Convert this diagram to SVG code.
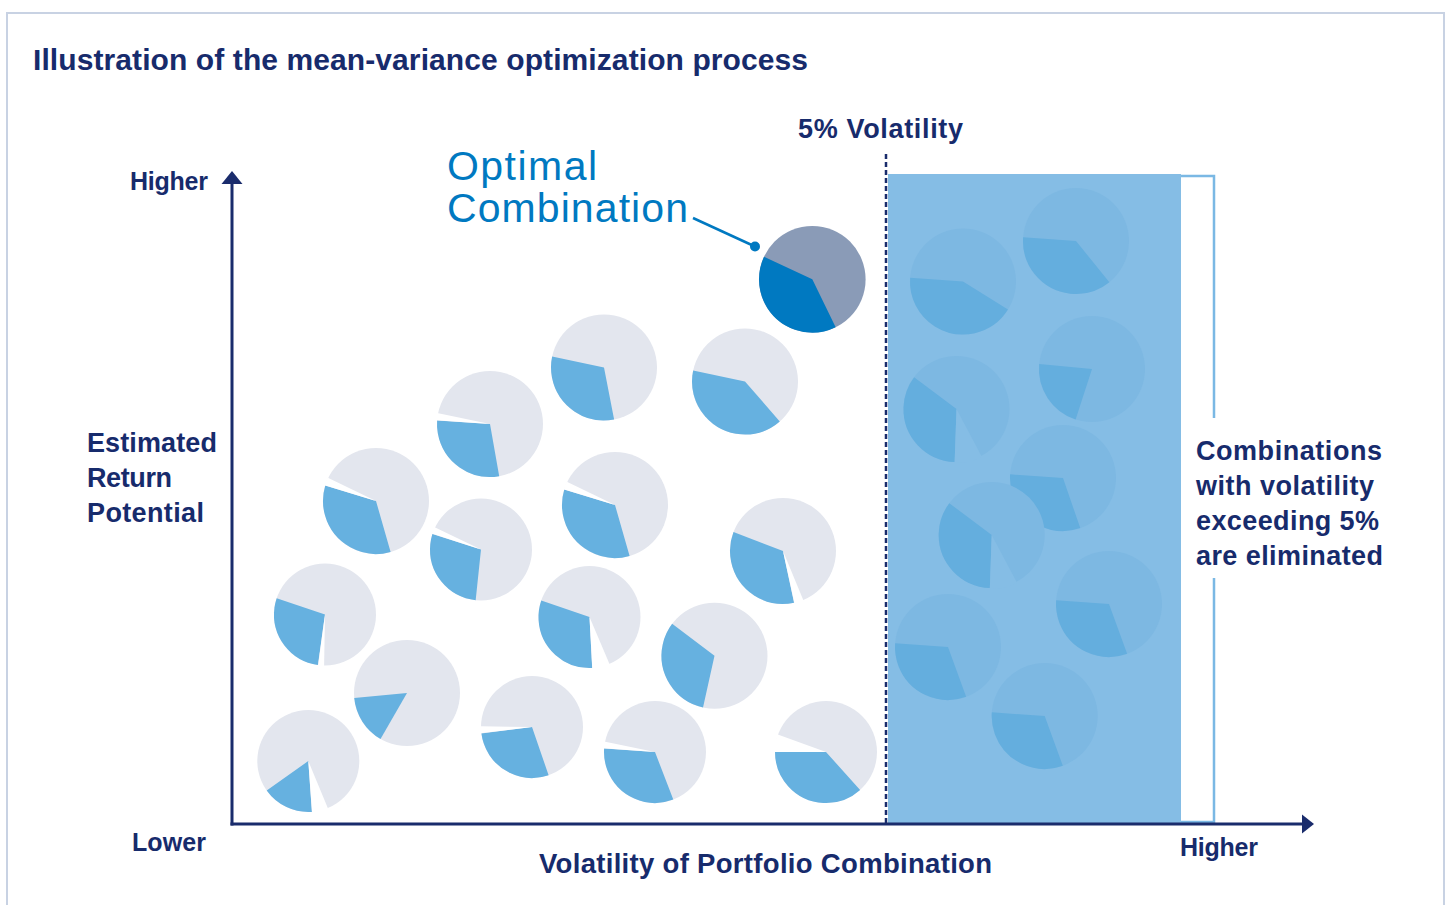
<svg xmlns="http://www.w3.org/2000/svg" width="1448" height="905" viewBox="0 0 1448 905">
<style>
.t{font-family:"Liberation Sans",Arial,sans-serif;font-weight:700;fill:#172b6c;font-size:27px}
.opt{font-family:"Liberation Sans",Arial,sans-serif;font-weight:400;fill:#0079c1;font-size:41px}
.g{fill:#e3e6ee}
.s{fill:none}
.b{stroke:#66b1e0}
.w{stroke:#ffffff}
.rg{fill:#7db8e2}
.rb{stroke:#64aede}
.rw{stroke:#85bde5}
.ax{stroke:#1a2c6c;stroke-width:3;fill:none}
</style>
<rect x="0" y="0" width="1448" height="905" fill="#ffffff"/>
<rect x="7" y="13" width="1437" height="900" fill="none" stroke="#c8d2e3" stroke-width="2"/>
<text class="t" x="33" y="70" style="font-size:30px" textLength="775">Illustration of the mean-variance optimization process</text>

<rect id="eliminated-zone" x="888" y="174" width="293" height="650" fill="#85bde5"/>

<g id="eliminated-pies">
<g id="r1" transform="translate(963 281.5)"><circle r="53" class="rg"/><circle r="26.5" pathLength="360" class="s rb" stroke-width="53" stroke-dasharray="152 360" transform="rotate(32)"/></g>
<g id="r2" transform="translate(1076 241)"><circle r="53" class="rg"/><circle r="26.5" pathLength="360" class="s rb" stroke-width="53" stroke-dasharray="133 360" transform="rotate(51)"/></g>
<g id="r3" transform="translate(1092 369)"><circle r="53" class="rg"/><circle r="26.5" pathLength="360" class="s rb" stroke-width="53" stroke-dasharray="77 360" transform="rotate(108)"/></g>
<g id="r4" transform="translate(956.5 409)"><circle r="53" class="rg"/><circle r="26.5" pathLength="360" class="s rb" stroke-width="53" stroke-dasharray="125 360" transform="rotate(92)"/><circle r="27" pathLength="360" class="s rw" stroke-width="54" stroke-dasharray="30 360" transform="rotate(62)"/></g>
<g id="r5" transform="translate(1063 478)"><circle r="53" class="rg"/><circle r="26.5" pathLength="360" class="s rb" stroke-width="53" stroke-dasharray="113 360" transform="rotate(71)"/></g>
<g id="r6" transform="translate(991.7 535)"><circle r="53" class="rg"/><circle r="26.5" pathLength="360" class="s rb" stroke-width="53" stroke-dasharray="125 360" transform="rotate(92)"/><circle r="27" pathLength="360" class="s rw" stroke-width="54" stroke-dasharray="30 360" transform="rotate(62)"/></g>
<g id="r7" transform="translate(1109 604)"><circle r="53" class="rg"/><circle r="26.5" pathLength="360" class="s rb" stroke-width="53" stroke-dasharray="114 360" transform="rotate(70)"/></g>
<g id="r8" transform="translate(948 647)"><circle r="53" class="rg"/><circle r="26.5" pathLength="360" class="s rb" stroke-width="53" stroke-dasharray="114 360" transform="rotate(70)"/></g>
<g id="r9" transform="translate(1044.7 716)"><circle r="53" class="rg"/><circle r="26.5" pathLength="360" class="s rb" stroke-width="53" stroke-dasharray="114 360" transform="rotate(70)"/></g>
</g>

<g id="pies">
<g id="pie-a" transform="translate(490 424)"><circle r="53" class="g"/><circle r="26.5" pathLength="360" class="s b" stroke-width="53" stroke-dasharray="104 360" transform="rotate(80)"/><circle r="27" pathLength="360" class="s w" stroke-width="54" stroke-dasharray="8 360" transform="rotate(184)"/></g>
<g id="pie-d" transform="translate(604 367.5)"><circle r="53" class="g"/><circle r="26.5" pathLength="360" class="s b" stroke-width="53" stroke-dasharray="113 360" transform="rotate(79)"/></g>
<g id="pie-e" transform="translate(745 381.5)"><circle r="53" class="g"/><circle r="26.5" pathLength="360" class="s b" stroke-width="53" stroke-dasharray="143 360" transform="rotate(49)"/></g>
<g id="pie-b" transform="translate(376 501)"><circle r="53" class="g"/><circle r="26.5" pathLength="360" class="s b" stroke-width="53" stroke-dasharray="123 360" transform="rotate(74)"/><circle r="27" pathLength="360" class="s w" stroke-width="54" stroke-dasharray="9 360" transform="rotate(197)"/></g>
<g id="pie-c" transform="translate(481 549.5)"><circle r="51" class="g"/><circle r="25.5" pathLength="360" class="s b" stroke-width="51" stroke-dasharray="102 360" transform="rotate(96)"/><circle r="26" pathLength="360" class="s w" stroke-width="52" stroke-dasharray="8 360" transform="rotate(198)"/></g>
<g id="pie-f" transform="translate(615 505)"><circle r="53" class="g"/><circle r="26.5" pathLength="360" class="s b" stroke-width="53" stroke-dasharray="123 360" transform="rotate(74)"/><circle r="27" pathLength="360" class="s w" stroke-width="54" stroke-dasharray="9 360" transform="rotate(197)"/></g>
<g id="pie-g" transform="translate(783 551)"><circle r="53" class="g"/><circle r="26.5" pathLength="360" class="s b" stroke-width="53" stroke-dasharray="123 360" transform="rotate(78)"/><circle r="27" pathLength="360" class="s w" stroke-width="54" stroke-dasharray="10.5 360" transform="rotate(67.5)"/></g>
<g id="pie-h" transform="translate(325 614.5)"><circle r="51" class="g"/><circle r="25.5" pathLength="360" class="s b" stroke-width="51" stroke-dasharray="101 360" transform="rotate(98)"/><circle r="26" pathLength="360" class="s w" stroke-width="52" stroke-dasharray="7 360" transform="rotate(91)"/></g>
<g id="pie-o" transform="translate(589.5 617)"><circle r="51" class="g"/><circle r="25.5" pathLength="360" class="s b" stroke-width="51" stroke-dasharray="112 360" transform="rotate(87)"/><circle r="26" pathLength="360" class="s w" stroke-width="52" stroke-dasharray="20 360" transform="rotate(67)"/></g>
<g id="pie-m" transform="translate(714.5 655.7)"><circle r="53" class="g"/><circle r="26.5" pathLength="360" class="s b" stroke-width="53" stroke-dasharray="114.5 360" transform="rotate(102.5)"/></g>
<g id="pie-i" transform="translate(407 693)"><circle r="53" class="g"/><circle r="26.5" pathLength="360" class="s b" stroke-width="53" stroke-dasharray="54.5 360" transform="rotate(120)"/></g>
<g id="pie-j" transform="translate(308.3 761)"><circle r="51" class="g"/><circle r="25.5" pathLength="360" class="s b" stroke-width="51" stroke-dasharray="58.5 360" transform="rotate(86)"/><circle r="26" pathLength="360" class="s w" stroke-width="52" stroke-dasharray="18.5 360" transform="rotate(67.5)"/></g>
<g id="pie-k" transform="translate(532 727)"><circle r="51" class="g"/><circle r="25.5" pathLength="360" class="s b" stroke-width="51" stroke-dasharray="102 360" transform="rotate(71)"/><circle r="26" pathLength="360" class="s w" stroke-width="52" stroke-dasharray="8 360" transform="rotate(173)"/></g>
<g id="pie-l" transform="translate(655 752)"><circle r="51" class="g"/><circle r="25.5" pathLength="360" class="s b" stroke-width="51" stroke-dasharray="115 360" transform="rotate(69)"/><circle r="26" pathLength="360" class="s w" stroke-width="52" stroke-dasharray="8 360" transform="rotate(184)"/></g>
<g id="pie-n" transform="translate(826 752)"><circle r="51" class="g"/><circle r="25.5" pathLength="360" class="s b" stroke-width="51" stroke-dasharray="132 360" transform="rotate(48)"/><circle r="26" pathLength="360" class="s w" stroke-width="52" stroke-dasharray="20 360" transform="rotate(180)"/></g>
</g>

<g id="optimal-pie" transform="translate(812.3 279.3)"><circle r="53.3" fill="#8a9bb7"/><circle r="26.65" pathLength="360" class="s" stroke="#0079c1" stroke-width="53.3" stroke-dasharray="141 360" transform="rotate(64)"/></g>

<g id="connectors">
<line x1="886" y1="154" x2="886" y2="824" stroke="#1a2c6c" stroke-width="2.5" stroke-dasharray="5 3"/>
<path d="M1181 176 H1214 V418 M1214 578 V822 H1181" fill="none" stroke="#7ab8e4" stroke-width="2.5"/>
<line x1="693" y1="218" x2="755" y2="246.5" stroke="#0079c1" stroke-width="2.5"/>
<circle cx="755" cy="246.5" r="5" fill="#0079c1"/>
<path class="ax" d="M232 825.5 V182"/>
<polygon points="232,171 221.5,184 242.5,184" fill="#1a2c6c"/>
<path class="ax" d="M230.5 824 H1304"/>
<polygon points="1314,824 1302,814.5 1302,833.5" fill="#1a2c6c"/>
</g>

<g id="labels">
<text class="t" x="798" y="138" textLength="165">5% Volatility</text>
<text class="opt" x="447" y="180" textLength="150">Optimal</text>
<text class="opt" x="447" y="222" textLength="241">Combination</text>
<text class="t" x="130" y="190" style="font-size:25px" textLength="78">Higher</text>
<text class="t" x="87" y="452" textLength="130">Estimated</text>
<text class="t" x="87" y="487" textLength="85">Return</text>
<text class="t" x="87" y="522" textLength="117">Potential</text>
<text class="t" x="132" y="851" style="font-size:25px" textLength="74">Lower</text>
<text class="t" x="539" y="873" style="font-size:27.5px" textLength="453">Volatility of Portfolio Combination</text>
<text class="t" x="1180" y="856" style="font-size:25px" textLength="78">Higher</text>
<text class="t" x="1196" y="460" textLength="186">Combinations</text>
<text class="t" x="1196" y="495" textLength="178">with volatility</text>
<text class="t" x="1196" y="530" textLength="183">exceeding 5%</text>
<text class="t" x="1196" y="565" textLength="187">are eliminated</text>
</g>
</svg>
